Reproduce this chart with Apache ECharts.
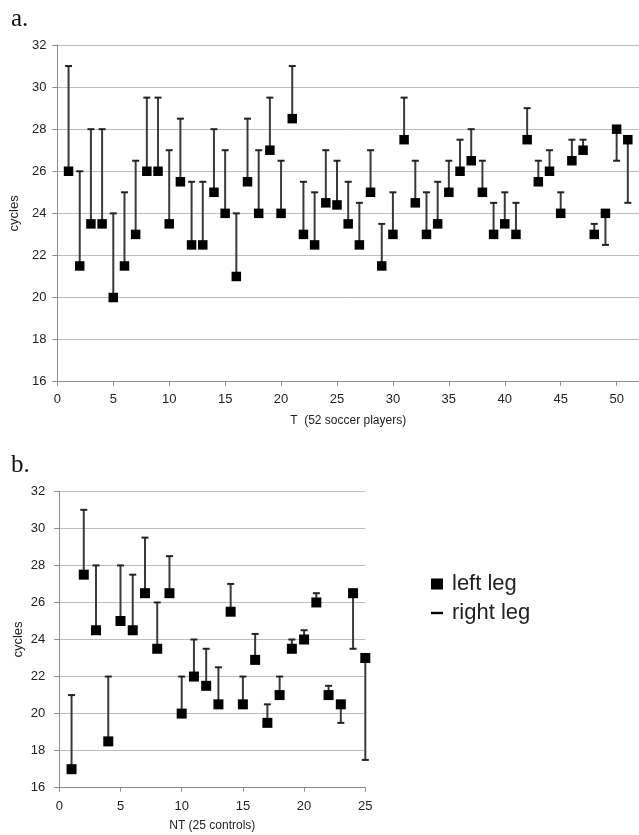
<!DOCTYPE html>
<html>
<head>
<meta charset="utf-8">
<script src="https://cdn.jsdelivr.net/npm/echarts@6/dist/echarts.min.js"></script>
<style>
html,body{margin:0;padding:0;background:#fff;}
#c{width:639px;height:835px;}
</style>
</head>
<body>
<div id="c"></div>
<script>
// Panel a: T (52 soccer players) — subjects 1..51 visible
const aSubject = [1,2,3,4,5,6,7,8,9,10,11,12,13,14,15,16,17,18,19,20,21,22,23,24,25,26,27,28,29,30,31,32,33,34,35,36,37,38,39,40,41,42,43,44,45,46,47,48,49,50,51];
const aLeft  = [26,21.5,23.5,23.5,20,21.5,23,26,26,23.5,25.5,22.5,22.5,25,24,21,25.5,24,27,24,28.5,23,22.5,24.5,24.4,23.5,22.5,25,21.5,23,27.5,24.5,23,23.5,25,26,26.5,25,23,23.5,23,27.5,25.5,26,24,26.5,27,23,24,28,27.5];
const aRight = [31,26,28,28,24,25,26.5,29.5,29.5,27,28.5,25.5,25.5,28,27,24,28.5,27,29.5,26.5,31,25.5,25,27,26.5,25.5,24.5,27,23.5,25,29.5,26.5,25,25.5,26.5,27.5,28,26.5,24.5,25,24.5,29,26.5,27,25,27.5,27.5,23.5,22.5,26.5,24.5];

// Panel b: NT (25 controls)
const bSubject = [1,2,3,4,5,6,7,8,9,10,11,12,13,14,15,16,17,18,19,20,21,22,23,24,25];
const bLeft  = [17,27.5,24.5,18.5,25,24.5,26.5,23.5,26.5,20,22,21.5,20.5,25.5,20.5,22.9,19.5,21,23.5,24,26,21,20.5,26.5,23];
const bRight = [21,31,28,22,28,27.5,29.5,26,28.5,22,24,23.5,22.5,27,22,24.3,20.5,22,24,24.5,26.5,21.5,19.5,23.5,17.5];

const panelLabels = ['a.', 'b.'];
const xNames = ['T  (52 soccer players)', 'NT (25 controls)'];
const yName = 'cycles';
const legendNames = ['left leg', 'right leg'];

const FONT = '"Liberation Sans", Arial, sans-serif';

function pts(xs, ys){ return xs.map((x,i)=>[x, ys[i]]); }
function errs(xs, l, r){ return xs.map((x,i)=>[x, l[i], r[i]]); }

function errRender(params, api){
  const x = api.value(0), l = api.value(1), r = api.value(2);
  const p0 = api.coord([x, l]), p1 = api.coord([x, r]);
  const hw = 3.5;
  return {type:'group', children:[
    {type:'line', shape:{x1:p0[0], y1:p0[1], x2:p1[0], y2:p1[1]}, style:{stroke:'#3a3a3a', lineWidth:2}},
    {type:'line', shape:{x1:p1[0]-hw, y1:p1[1], x2:p1[0]+hw, y2:p1[1]}, style:{stroke:'#222', lineWidth:2}}
  ]};
}

function yAxisCfg(gi, gap, margin){
  return {
    gridIndex: gi, type:'value', min:16, max:32, interval:2,
    name: yName, nameLocation:'middle', nameGap: gap, nameRotate: 90,
    nameTextStyle:{fontFamily:FONT, fontSize:13, color:'#222'},
    axisLine:{show:true, lineStyle:{color:'#8c8c8c', width:1}},
    axisTick:{show:true, length:5, lineStyle:{color:'#8c8c8c'}},
    axisLabel:{fontFamily:FONT, fontSize:13, color:'#222', margin: margin},
    splitLine:{show:true, lineStyle:{color:'#bdbdbd', width:1}}
  };
}

function xAxisCfg(gi, max, name, gap, margin){
  return {
    gridIndex: gi, type:'value', min:0, max:max, interval:5,
    name: name, nameLocation:'middle', nameGap: gap,
    nameTextStyle:{fontFamily:FONT, fontSize:12, color:'#222'},
    axisLine:{show:true, lineStyle:{color:'#8c8c8c', width:1}},
    axisTick:{show:true, length:4, lineStyle:{color:'#8c8c8c'}},
    axisLabel:{fontFamily:FONT, fontSize:13, color:'#222', margin: margin, showMaxLabel: max % 5 === 0},
    splitLine:{show:false}
  };
}

const chart = echarts.init(document.getElementById('c'), null, {renderer:'canvas'});
chart.setOption({
  animation:false,
  backgroundColor:'#fff',
  grid:[
    {left:53, top:45, width:52*11.42, height:336.7},
    {left:59.3, top:491.3, width:25*12.24, height:296.4}
  ],
  xAxis:[ xAxisCfg(0, 52, xNames[0], 33, 11), xAxisCfg(1, 25, xNames[1], 32, 12) ],
  yAxis:[ yAxisCfg(0, 28, 11), yAxisCfg(1, 34, 14) ],
  legend:{
    orient:'vertical', left:426, top:568, itemGap:7,
    itemWidth:12, itemHeight:11,
    textStyle:{fontFamily:FONT, fontSize:22, color:'#222', padding:[0,0,0,4]},
    data:[
      {name:legendNames[0], icon:'rect', itemStyle:{color:'#000', opacity:1}},
      {name:legendNames[1], icon:'path://M0,0H12V2.4H0Z', itemStyle:{color:'#000', opacity:1}}
    ]
  },
  graphic:[
    {type:'text', x:11, y:19.5, style:{text:panelLabels[0], font:'25px "Liberation Serif", "Times New Roman", serif', fill:'#111', verticalAlign:'middle'}},
    {type:'text', x:11, y:465.5, style:{text:panelLabels[1], font:'25px "Liberation Serif", "Times New Roman", serif', fill:'#111', verticalAlign:'middle'}}
  ],
  series:[
    {name:legendNames[1], type:'custom', xAxisIndex:0, yAxisIndex:0, renderItem:errRender,
     encode:{x:0, y:[1,2]}, data:errs(aSubject, aLeft, aRight), itemStyle:{color:'#000'}, clip:false, z:2},
    {name:legendNames[0], type:'scatter', xAxisIndex:0, yAxisIndex:0, symbol:'rect', symbolSize:9.5,
     itemStyle:{color:'#000', opacity:1}, data:pts(aSubject, aLeft), z:3},
    {name:legendNames[1], type:'custom', xAxisIndex:1, yAxisIndex:1, renderItem:errRender,
     encode:{x:0, y:[1,2]}, data:errs(bSubject, bLeft, bRight), itemStyle:{color:'#000'}, clip:false, z:2},
    {name:legendNames[0], type:'scatter', xAxisIndex:1, yAxisIndex:1, symbol:'rect', symbolSize:10,
     itemStyle:{color:'#000', opacity:1}, data:pts(bSubject, bLeft), z:3}
  ]
});
</script>
</body>
</html>
